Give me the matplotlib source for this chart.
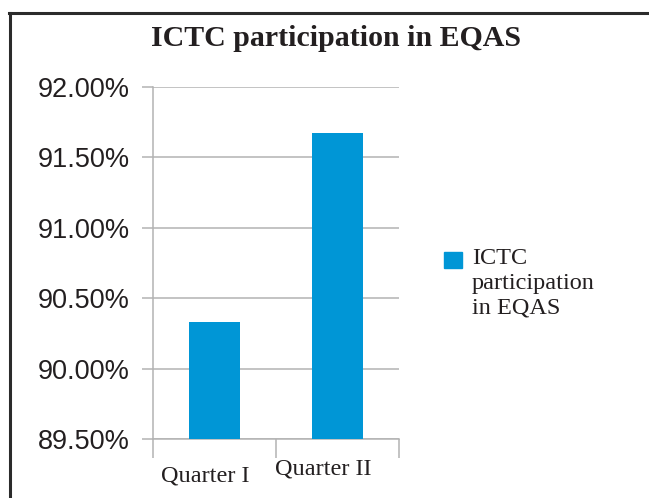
import matplotlib.pyplot as plt
from matplotlib.lines import Line2D
from matplotlib.patches import Rectangle

# data
quarters = ['Quarter I', 'Quarter II']
participation = [90.33, 91.67]
yticks = [89.5, 90.0, 90.5, 91.0, 91.5, 92.0]
series_name = 'ICTC\nparticipation\nin EQAS'

W, H = 649, 498
fig = plt.figure(figsize=(W / 100, H / 100), dpi=100)

# outer frame (left and top edges visible)
fig.add_artist(Line2D([10 / W, 10 / W], [0, 1 - 13 / H], transform=fig.transFigure,
                      color='#2b2b2b', lw=2.2))
fig.add_artist(Line2D([9 / W, 1], [1 - 13.5 / H, 1 - 13.5 / H], transform=fig.transFigure,
                      color='#2b2b2b', lw=2.2))

ax = fig.add_axes([153 / W, 1 - 439 / H, (399 - 153) / W, (439 - 87) / H])

blue = '#0096d6'
grid = '#b3b3b3'
txt = '#231f20'
ax.bar(range(len(quarters)), participation, width=0.41, color=blue, zorder=3)

ax.set_xlim(-0.5, len(quarters) - 0.5)
ax.set_ylim(89.5, 92.0)
ax.set_yticks(yticks)
ax.set_yticklabels(['%.2f%%' % v for v in yticks], fontsize=19.5,
                   family='Liberation Sans', color=txt)
ax.yaxis.grid(True, color=grid, lw=1.1, zorder=0)

ax.set_xticks([-0.5, 0.5, 1.5])
ax.set_xticklabels([])
ax.tick_params(axis='x', length=14, color=grid, width=1.1)
ax.tick_params(axis='y', length=8, color=grid, width=1.1, pad=9)

# category labels are staggered slightly in the original
offsets = [(-9, -26), (-14, -19)]
for i, (q, off) in enumerate(zip(quarters, offsets)):
    ax.annotate(q, xy=(i, 0), xycoords=('data', 'axes fraction'), xytext=off,
                textcoords='offset pixels', ha='center', va='top', fontsize=17.5,
                family='Liberation Serif', color=txt, annotation_clip=False)

for s in ['top', 'right']:
    ax.spines[s].set_visible(False)
for s in ['left', 'bottom']:
    ax.spines[s].set_color(grid)
    ax.spines[s].set_linewidth(1.1)

fig.text(336 / W, 1 - 38 / H, 'ICTC participation in EQAS', ha='center', va='center',
         fontsize=21.5, fontweight='bold', family='Liberation Serif', color=txt)

# legend: key aligned with the first line of the wrapped label
fig.add_artist(Rectangle((444 / W, 1 - 268 / H), 18 / W, 16 / H, transform=fig.transFigure,
                         color=blue))
fig.text(472 / W, 1 - 248 / H, series_name, ha='left', va='top', fontsize=17.5,
         family='Liberation Serif', color=txt, linespacing=1.22)

fig.savefig('out.png', dpi=100)
